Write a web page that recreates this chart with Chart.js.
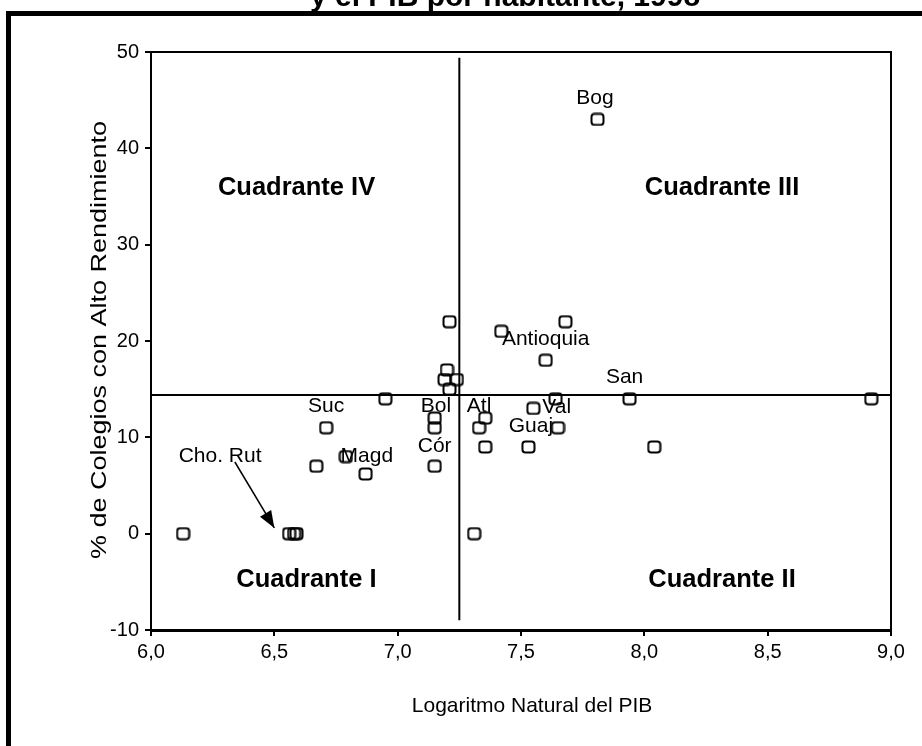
<!DOCTYPE html>
<html>
<head>
<meta charset="utf-8">
<script src="https://cdn.jsdelivr.net/npm/chart.js@4.4.1/dist/chart.umd.min.js"></script>
<style>
  html, body { margin: 0; padding: 0; background: #fff; }
  canvas { display: block; }
</style>
</head>
<body>
<canvas id="myChart" width="922" height="746"></canvas>
<script>
// log of GDP per head (x) and % of high-performing schools (y), one per department
var pibLog = [6.13, 6.56, 6.58, 6.59, 6.67, 6.71, 6.79, 6.87, 6.95, 7.15, 7.15, 7.15,
              7.21, 7.20, 7.19, 7.24, 7.21, 7.31, 7.33, 7.355, 7.355, 7.42, 7.53, 7.55,
              7.60, 7.64, 7.65, 7.68, 7.81, 7.94, 8.04, 8.92];
var colegios = [0, 0, 0, 0, 7, 11, 8, 6.2, 14, 12, 11, 7,
                22, 17, 16, 16, 15, 0, 11, 12, 9, 21, 9, 13,
                18, 14, 11, 22, 43, 14, 9, 14];

// reference lines (means)
var mediaPib = 7.25;
var mediaColegios = 14.4;

// department labels and where they sit (data coords)
var etiquetas = ["Bog", "Antioquia", "San", "Val", "Guaj", "Atl", "Bol", "Cór", "Suc", "Magd", "Cho. Rut"];
var etiquetaX = [7.80, 7.60, 7.92, 7.645, 7.54, 7.33, 7.155, 7.15, 6.71, 6.875, 6.28];
var etiquetaY = [45.2, 20.2, 16.2, 13.1, 11.2, 13.2, 13.2, 9.1, 13.25, 8.07, 8.0];

var cuadrantes = ["Cuadrante IV", "Cuadrante III", "Cuadrante I", "Cuadrante II"];
var cuadranteX = [6.59, 8.315, 6.63, 8.315];
var cuadranteY = [35.9, 35.9, -4.8, -4.8];

var xTicks = [6.0, 6.5, 7.0, 7.5, 8.0, 8.5, 9.0];
var yTicks = [-10, 0, 10, 20, 30, 40, 50];

var FONT = "'Liberation Sans', Arial, sans-serif";

// hollow rounded square marker
function marcador() {
  var c = document.createElement('canvas');
  c.width = 15; c.height = 14;
  var g = c.getContext('2d');
  g.lineWidth = 2;
  g.strokeStyle = '#000';
  g.beginPath();
  g.roundRect(1.5, 1.5, 12, 11, 3);
  g.stroke();
  return c;
}

var puntos = pibLog.map(function (x, i) { return { x: x, y: colegios[i] }; });

var extras = {
  id: 'extras',
  afterDatasetsDraw: function (chart) {
    var ctx = chart.ctx, xs = chart.scales.x, ys = chart.scales.y;
    ctx.save();
    ctx.fillStyle = '#000';
    ctx.textAlign = 'center';
    ctx.textBaseline = 'middle';
    ctx.font = '21px ' + FONT;
    etiquetas.forEach(function (t, i) {
      ctx.fillText(t, xs.getPixelForValue(etiquetaX[i]), ys.getPixelForValue(etiquetaY[i]));
    });
    ctx.font = 'bold 25.5px ' + FONT;
    cuadrantes.forEach(function (t, i) {
      ctx.fillText(t, xs.getPixelForValue(cuadranteX[i]), ys.getPixelForValue(cuadranteY[i]));
    });
    // arrow head at the end of the Cho./Rut pointer
    var d = chart.data.datasets[3].data;
    var x0 = xs.getPixelForValue(d[0].x), y0 = ys.getPixelForValue(d[0].y);
    var x1 = xs.getPixelForValue(d[1].x), y1 = ys.getPixelForValue(d[1].y);
    var a = Math.atan2(y1 - y0, x1 - x0);
    ctx.beginPath();
    ctx.moveTo(x1, y1);
    ctx.lineTo(x1 - 17 * Math.cos(a) + 6.5 * Math.sin(a), y1 - 17 * Math.sin(a) - 6.5 * Math.cos(a));
    ctx.lineTo(x1 - 17 * Math.cos(a) - 6.5 * Math.sin(a), y1 - 17 * Math.sin(a) + 6.5 * Math.cos(a));
    ctx.closePath();
    ctx.fill();
    ctx.restore();
  },
  afterDraw: function (chart) {
    var ctx = chart.ctx, a = chart.chartArea;
    ctx.save();
    ctx.strokeStyle = '#000';
    // top and right edges of the plot box
    ctx.lineWidth = 2;
    ctx.beginPath();
    ctx.moveTo(a.left, a.top);
    ctx.lineTo(a.right, a.top);
    ctx.lineTo(a.right, a.bottom);
    ctx.stroke();
    // thick outer frame (runs off the page on the right and bottom)
    ctx.lineWidth = 5;
    ctx.strokeRect(8.5, 13.5, 1000, 1000);
    // titles
    ctx.fillStyle = '#000';
    ctx.textAlign = 'center';
    ctx.font = 'bold 30px ' + FONT;
    ctx.textBaseline = 'alphabetic';
    ctx.fillText('y el PIB por habitante, 1998', 505, 6);
    ctx.textBaseline = 'middle';
    ctx.font = '21px ' + FONT;
    ctx.fillText('Logaritmo Natural del PIB', 532, 706);
    ctx.translate(100, 340);
    ctx.rotate(-Math.PI / 2);
    ctx.scale(1, 0.85);
    ctx.font = '27px ' + FONT;
    ctx.fillText('% de Colegios con Alto Rendimiento', 0, 0);
    ctx.restore();
  }
};

var ctx = document.getElementById('myChart').getContext('2d');
var myChart = new Chart(ctx, {
  type: 'scatter',
  data: {
    datasets: [{
      data: puntos,
      pointStyle: marcador(),
      pointRadius: 6,
      pointHoverRadius: 6
    }, {
      type: 'line',
      data: [{ x: 6, y: mediaColegios }, { x: 9, y: mediaColegios }],
      borderColor: '#000',
      borderWidth: 2,
      pointRadius: 0
    }, {
      type: 'line',
      data: [{ x: mediaPib, y: -9 }, { x: mediaPib, y: 49.4 }],
      borderColor: '#000',
      borderWidth: 2,
      pointRadius: 0
    }, {
      type: 'line',
      data: [{ x: 6.34, y: 7.44 }, { x: 6.50, y: 0.6 }],
      borderColor: '#000',
      borderWidth: 1.5,
      pointRadius: 0
    }]
  },
  options: {
    responsive: false,
    animation: false,
    devicePixelRatio: 1,
    layout: { padding: { left: 0, top: 52, right: 31, bottom: 0 } },
    plugins: { legend: { display: false }, tooltip: { enabled: false } },
    scales: {
      x: {
        type: 'linear',
        min: 6, max: 9,
        afterFit: function (s) { s.height = 116; },
        afterBuildTicks: function (s) { s.ticks = xTicks.map(function (v) { return { value: v }; }); },
        ticks: {
          color: '#000',
          font: { size: 20, family: FONT },
          padding: 4,
          maxRotation: 0,
          callback: function (v) { return v.toFixed(1).replace('.', ','); }
        },
        grid: { drawOnChartArea: false, drawTicks: true, tickLength: 6, color: '#000', lineWidth: 2 },
        border: { display: true, color: '#000', width: 3 }
      },
      y: {
        type: 'linear',
        min: -10, max: 50,
        afterFit: function (s) { s.width = 151; },
        afterBuildTicks: function (s) { s.ticks = yTicks.map(function (v) { return { value: v }; }); },
        ticks: {
          color: '#000',
          font: { size: 20, family: FONT },
          padding: 6
        },
        grid: { drawOnChartArea: false, drawTicks: true, tickLength: 6, color: '#000', lineWidth: 2 },
        border: { display: true, color: '#000', width: 2 }
      }
    }
  },
  plugins: [extras]
});
</script>
</body>
</html>
